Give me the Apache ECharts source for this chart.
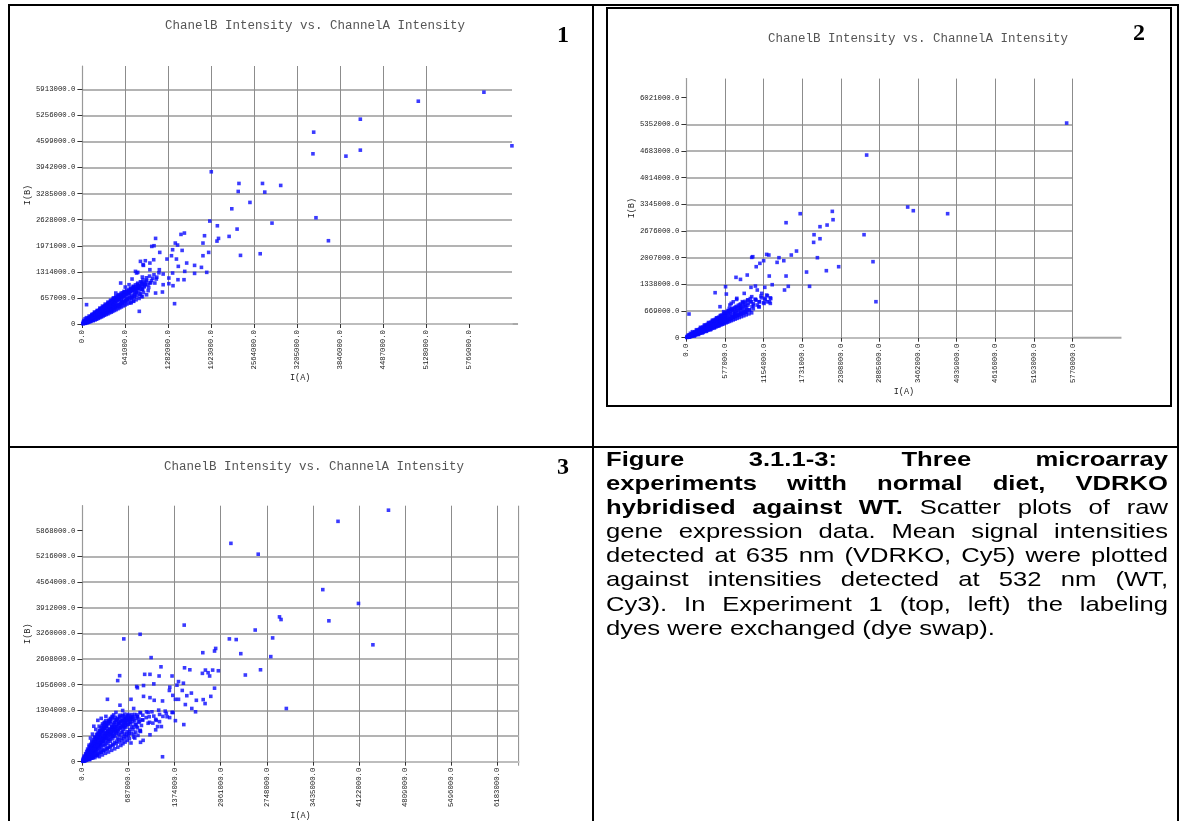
<!DOCTYPE html>
<html>
<head>
<meta charset="utf-8">
<script src="https://cdn.jsdelivr.net/npm/echarts@6/dist/echarts.min.js"></script>
<style>
  html, body { margin: 0; padding: 0; background: #fff; }
  #page { position: relative; width: 1180px; height: 821px; overflow: hidden; }
  #chart { position: absolute; left: 0; top: 0; width: 1180px; height: 821px; }
  .rule { position: absolute; background: #000; }
  #box2 { position: absolute; left: 606px; top: 7px; width: 566px; height: 400px; border: 2px solid #000; box-sizing: border-box; }
  #caption {
    position: absolute; left: 606px; top: 447px; width: 460.7px;
    transform: scaleX(1.22); transform-origin: 0 0;
    font-family: 'Liberation Sans', Arial, sans-serif; font-size: 21px; line-height: 24.1px; color: #000;
  }
  #caption div { text-align: justify; text-align-last: justify; white-space: normal; }
  #caption div.last { text-align-last: left; }
</style>
</head>
<body>
<div id="page">
  <div id="chart"></div>
  <div class="rule" style="left:8px;top:4px;width:1171px;height:2px"></div>
  <div class="rule" style="left:8px;top:4px;width:2px;height:817px"></div>
  <div class="rule" style="left:1177px;top:4px;width:2px;height:817px"></div>
  <div class="rule" style="left:592px;top:4px;width:1.5px;height:817px"></div>
  <div class="rule" style="left:8px;top:446px;width:1171px;height:1.5px"></div>
  <div id="box2"></div>
  <div id="caption">
    <div><b>Figure 3.1.1-3: Three microarray</b></div>
    <div><b>experiments witth normal diet, VDRKO</b></div>
    <div><b>hybridised against WT.</b> Scatter plots of raw</div>
    <div>gene expression data. Mean signal intensities</div>
    <div>detected at 635 nm (VDRKO, Cy5) were plotted</div>
    <div>against intensities detected at 532 nm (WT,</div>
    <div>Cy3). In Experiment 1 (top, left) the labeling</div>
    <div class="last">dyes were exchanged (dye swap).</div>
  </div>
</div>
<script>
const TITLE = 'ChanelB Intensity vs. ChannelA Intensity'
const MONO = '"Liberation Mono", "DejaVu Sans Mono", monospace'
const AXIS_MAX = 6500000

// tick values, as printed on each panel
const p1XTicks = [0, 641000, 1282000, 1923000, 2564000, 3205000, 3846000, 4487000, 5128000, 5769000]
const p1YTicks = [0, 657000, 1314000, 1971000, 2628000, 3285000, 3942000, 4599000, 5256000, 5913000]
const p2XTicks = [0, 577000, 1154000, 1731000, 2308000, 2885000, 3462000, 4039000, 4616000, 5193000, 5770000]
const p2YTicks = [0, 669000, 1338000, 2007000, 2676000, 3345000, 4014000, 4683000, 5352000, 6021000]
const p3XTicks = [0, 687000, 1374000, 2061000, 2748000, 3435000, 4122000, 4809000, 5496000, 6183000]
const p3YTicks = [0, 652000, 1304000, 1956000, 2608000, 3260000, 3912000, 4564000, 5216000, 5868000]

// experiment 1: [I(A), I(B)]
const p1Points = [
  [5991e3, 5840e3], [5012e3, 5613e3], [4147e3, 5160e3], [3451e3, 4833e3], [6409e3, 4489e3], [4147e3, 4380e3],
  [3440e3, 4288e3], [3932e3, 4229e3], [1923e3, 3835e3], [2336e3, 3541e3], [2687e3, 3541e3], [2959e3, 3491e3],
  [2325e3, 3340e3], [2721e3, 3323e3], [2500e3, 3063e3], [2229e3, 2903e3], [3485e3, 2677e3], [1901e3, 2593e3],
  [2829e3, 2542e3], [2014e3, 2475e3], [2308e3, 2391e3], [2189e3, 2207e3], [2031e3, 2157e3], [2008e3, 2089e3],
  [3671e3, 2098e3], [1822e3, 2224e3], [1799e3, 2039e3], [1884e3, 1804e3], [1799e3, 1720e3], [2359e3, 1729e3],
  [2653e3, 1770e3],
  [1522e3, 2291e3], [1471e3, 2257e3], [1386e3, 2039e3], [1420e3, 1989e3], [1488e3, 1854e3], [1346e3, 1871e3],
  [1329e3, 1720e3], [1092e3, 2157e3], [1069e3, 1972e3], [1154e3, 1804e3], [1262e3, 1636e3], [1403e3, 1636e3],
  [1556e3, 1536e3], [1431e3, 1452e3], [1674e3, 1477e3], [1776e3, 1427e3], [1855e3, 1301e3], [1674e3, 1275e3],
  [1527e3, 1326e3], [1346e3, 1284e3], [1205e3, 1259e3], [1290e3, 1158e3], [1426e3, 1116e3], [1516e3, 1116e3],
  [1352e3, 965e3], [1290e3, 1015e3], [1205e3, 990e3], [1375e3, 512e3], [1194e3, 806e3], [1092e3, 780e3],
  [866e3, 1578e3], [911e3, 1477e3], [939e3, 1594e3], [1007e3, 1536e3], [1064e3, 1619e3], [826e3, 1301e3],
  [792e3, 1326e3], [894e3, 1183e3], [950e3, 1074e3], [1007e3, 1032e3], [1081e3, 1032e3], [741e3, 1133e3],
  [696e3, 990e3], [571e3, 1032e3], [639e3, 931e3], [724e3, 864e3], [803e3, 797e3], [877e3, 696e3],
  [764e3, 571e3], [849e3, 319e3], [498e3, 780e3], [470e3, 654e3], [583e3, 571e3], [413e3, 512e3],
  [62e3, 487e3], [554e3, 445e3], [385e3, 361e3], [1035e3, 1955e3], [905e3, 1494e3], [809e3, 1284e3],
  [922e3, 1049e3], [837e3, 931e3], [1007e3, 1368e3], [1148e3, 1368e3], [781e3, 696e3], [639e3, 780e3],
  [735e3, 654e3], [724e3, 529e3], [554e3, 654e3], [1103e3, 1133e3], [894e3, 864e3], [764e3, 906e3],
  [5e3, 10e3], [15e3, 8e3], [20e3, 30e3], [30e3, 20e3], [35e3, 45e3], [45e3, 35e3], [50e3, 70e3], [60e3, 50e3],
  [65e3, 85e3], [75e3, 60e3], [80e3, 100e3], [90e3, 75e3], [95e3, 120e3], [105e3, 90e3], [110e3, 140e3],
  [120e3, 105e3], [125e3, 160e3], [135e3, 120e3], [140e3, 175e3], [150e3, 135e3], [155e3, 195e3], [165e3, 150e3],
  [170e3, 210e3], [180e3, 165e3], [185e3, 230e3], [195e3, 180e3], [200e3, 250e3], [210e3, 195e3], [215e3, 270e3],
  [225e3, 215e3], [230e3, 290e3], [240e3, 230e3], [245e3, 305e3], [255e3, 245e3], [260e3, 320e3], [270e3, 260e3],
  [275e3, 340e3], [285e3, 280e3], [290e3, 360e3], [300e3, 295e3], [305e3, 380e3], [315e3, 310e3], [320e3, 400e3],
  [330e3, 330e3], [335e3, 420e3], [345e3, 350e3], [350e3, 440e3], [360e3, 370e3], [370e3, 460e3], [380e3, 390e3],
  [390e3, 480e3], [400e3, 410e3], [410e3, 500e3], [420e3, 430e3], [430e3, 530e3], [440e3, 450e3], [450e3, 560e3],
  [460e3, 480e3], [470e3, 590e3], [480e3, 500e3], [490e3, 620e3], [500e3, 520e3],
  [20e3, 90e3], [40e3, 130e3], [60e3, 160e3], [80e3, 40e3], [100e3, 200e3], [120e3, 60e3], [140e3, 240e3],
  [160e3, 90e3], [180e3, 300e3], [200e3, 130e3], [220e3, 340e3], [240e3, 160e3], [260e3, 400e3], [280e3, 200e3],
  [300e3, 450e3], [320e3, 240e3], [340e3, 500e3], [360e3, 280e3], [380e3, 550e3], [400e3, 330e3], [420e3, 600e3],
  [440e3, 360e3], [460e3, 650e3], [480e3, 400e3], [500e3, 700e3], [520e3, 440e3], [540e3, 740e3], [560e3, 480e3],
  [580e3, 780e3], [600e3, 520e3], [620e3, 820e3], [640e3, 560e3], [520e3, 620e3], [550e3, 680e3], [580e3, 620e3],
  [610e3, 700e3], [640e3, 760e3], [660e3, 640e3], [680e3, 820e3], [700e3, 720e3], [720e3, 880e3], [740e3, 680e3],
  [760e3, 940e3], [780e3, 760e3], [800e3, 820e3], [820e3, 1000e3], [840e3, 900e3], [860e3, 760e3], [880e3, 1050e3],
  [900e3, 880e3], [920e3, 960e3], [940e3, 1000e3], [960e3, 1100e3], [990e3, 920e3], [1020e3, 1040e3], [1050e3, 1150e3],
  [12e3, 45e3], [28e3, 62e3], [42e3, 18e3], [58e3, 92e3], [66e3, 28e3], [88e3, 130e3], [97e3, 48e3], [112e3, 170e3],
  [118e3, 82e3], [131e3, 198e3], [146e3, 96e3], [152e3, 228e3], [163e3, 118e3], [177e3, 256e3], [186e3, 132e3],
  [193e3, 287e3], [204e3, 152e3], [218e3, 312e3], [226e3, 174e3], [236e3, 336e3], [247e3, 196e3], [258e3, 362e3],
  [266e3, 214e3], [274e3, 388e3], [288e3, 232e3], [297e3, 412e3], [306e3, 252e3], [318e3, 436e3], [327e3, 268e3],
  [338e3, 462e3], [346e3, 286e3], [356e3, 488e3], [367e3, 306e3], [377e3, 514e3], [388e3, 322e3], [396e3, 540e3],
  [407e3, 346e3], [418e3, 566e3], [426e3, 362e3], [437e3, 592e3], [448e3, 386e3], [458e3, 618e3], [467e3, 404e3],
  [478e3, 646e3], [488e3, 422e3], [497e3, 672e3], [512e3, 458e3], [526e3, 700e3], [538e3, 486e3], [553e3, 724e3],
  [566e3, 512e3], [578e3, 752e3], [592e3, 548e3], [606e3, 786e3], [618e3, 582e3], [633e3, 812e3], [648e3, 604e3],
  [662e3, 846e3], [676e3, 632e3], [694e3, 874e3], [708e3, 668e3], [723e3, 906e3], [742e3, 716e3], [758e3, 950e3],
  [772e3, 742e3], [791e3, 986e3], [807e3, 790e3], [826e3, 1028e3], [843e3, 836e3], [866e3, 1064e3], [884e3, 878e3],
  [903e3, 1112e3], [926e3, 936e3], [955e3, 1164e3], [978e3, 990e3], [1002e3, 1206e3], [1030e3, 1096e3],
  [1068e3, 1240e3], [1110e3, 1180e3], [1142e3, 1290e3],
  [150e3, 180e3], [250e3, 290e3], [350e3, 400e3], [450e3, 520e3], [550e3, 620e3], [650e3, 740e3], [750e3, 850e3],
  [850e3, 960e3], [200e3, 210e3], [300e3, 350e3], [400e3, 460e3], [500e3, 580e3], [600e3, 690e3], [700e3, 790e3],
  [800e3, 900e3], [900e3, 1010e3],
  [33e3, 55e3], [47e3, 81e3], [53e3, 40e3], [71e3, 112e3], [77e3, 52e3], [83e3, 141e3], [99e3, 66e3], [102e3, 158e3],
  [117e3, 95e3], [123e3, 182e3], [128e3, 73e3], [142e3, 211e3], [148e3, 109e3], [159e3, 248e3], [161e3, 87e3],
  [172e3, 133e3], [183e3, 271e3], [189e3, 102e3], [197e3, 158e3], [208e3, 296e3], [213e3, 121e3], [221e3, 182e3],
  [232e3, 327e3], [238e3, 142e3], [244e3, 203e3], [256e3, 351e3], [262e3, 163e3], [269e3, 228e3], [281e3, 374e3],
  [286e3, 179e3], [294e3, 251e3], [303e3, 398e3], [309e3, 201e3], [317e3, 276e3], [326e3, 421e3], [331e3, 222e3],
  [339e3, 298e3], [352e3, 452e3], [357e3, 241e3], [363e3, 317e3], [374e3, 479e3], [382e3, 258e3], [387e3, 341e3],
  [399e3, 502e3], [405e3, 281e3], [412e3, 362e3], [423e3, 531e3], [431e3, 298e3], [436e3, 384e3], [447e3, 557e3],
  [453e3, 320e3], [461e3, 408e3], [472e3, 584e3], [479e3, 341e3], [486e3, 431e3], [498e3, 609e3], [503e3, 362e3],
  [511e3, 452e3], [523e3, 638e3], [531e3, 386e3], [537e3, 479e3], [549e3, 662e3], [556e3, 408e3], [563e3, 503e3],
  [574e3, 690e3], [582e3, 431e3], [589e3, 527e3], [601e3, 715e3], [608e3, 456e3], [616e3, 552e3], [627e3, 741e3],
  [636e3, 478e3], [644e3, 577e3], [656e3, 768e3], [664e3, 503e3], [672e3, 602e3], [687e3, 796e3], [695e3, 528e3],
  [703e3, 628e3], [718e3, 822e3], [727e3, 552e3], [735e3, 656e3], [752e3, 851e3], [763e3, 580e3], [774e3, 686e3],
  [789e3, 880e3], [801e3, 610e3], [815e3, 716e3], [830e3, 912e3], [846e3, 644e3], [860e3, 752e3], [878e3, 948e3],
  [895e3, 688e3], [912e3, 792e3], [935e3, 990e3], [958e3, 736e3], [981e3, 840e3],
  [23e3, 38e3], [38e3, 51e3], [56e3, 68e3], [69e3, 97e3], [84e3, 88e3], [93e3, 139e3], [107e3, 121e3], [119e3, 131e3],
  [127e3, 176e3], [138e3, 152e3], [151e3, 167e3], [166e3, 201e3], [174e3, 188e3], [187e3, 244e3], [199e3, 221e3],
  [207e3, 238e3], [219e3, 264e3], [228e3, 251e3], [239e3, 301e3], [253e3, 278e3], [261e3, 305e3], [272e3, 318e3],
  [283e3, 333e3], [291e3, 342e3], [302e3, 371e3], [311e3, 329e3], [323e3, 389e3], [332e3, 402e3], [341e3, 371e3],
  [354e3, 419e3], [362e3, 431e3], [371e3, 398e3], [383e3, 452e3], [392e3, 468e3], [403e3, 437e3], [414e3, 489e3],
  [422e3, 512e3], [433e3, 471e3], [442e3, 528e3], [454e3, 549e3], [463e3, 502e3], [474e3, 561e3], [483e3, 578e3],
  [492e3, 541e3], [507e3, 603e3], [516e3, 588e3], [528e3, 627e3], [541e3, 651e3], [552e3, 601e3], [561e3, 688e3],
  [573e3, 662e3], [587e3, 714e3], [596e3, 671e3], [611e3, 738e3], [622e3, 713e3], [639e3, 789e3], [651e3, 722e3],
  [668e3, 804e3], [683e3, 772e3], [699e3, 838e3], [714e3, 811e3], [731e3, 866e3], [748e3, 832e3], [766e3, 902e3],
  [785e3, 871e3], [803e3, 938e3], [822e3, 906e3], [841e3, 972e3], [862e3, 944e3], [887e3, 1018e3]
]

// experiment 2
const p2Points = [
  [5681e3, 5385e3], [2693e3, 4582e3], [3306e3, 3278e3], [3390e3, 3186e3], [3903e3, 3111e3], [1700e3, 3111e3],
  [2180e3, 3169e3], [2191e3, 2960e3], [1489e3, 2885e3], [1996e3, 2785e3], [2102e3, 2826e3], [1907e3, 2584e3],
  [1996e3, 2483e3], [2654e3, 2584e3], [1901e3, 2392e3], [1645e3, 2174e3], [1567e3, 2074e3], [1957e3, 2007e3],
  [2788e3, 1907e3], [5781e3, 1806e3], [2275e3, 1781e3], [2091e3, 1681e3], [1795e3, 1647e3], [1840e3, 1288e3],
  [2832e3, 903e3], [1489e3, 1547e3], [1522e3, 1288e3], [1466e3, 1196e3], [1383e3, 2007e3], [1355e3, 1890e3],
  [1455e3, 1932e3], [1199e3, 2090e3], [1232e3, 2074e3], [1154e3, 1932e3], [1098e3, 1865e3], [1043e3, 1781e3],
  [976e3, 2015e3], [992e3, 2032e3], [1238e3, 1547e3], [1282e3, 1330e3], [909e3, 1572e3], [741e3, 1514e3],
  [808e3, 1463e3], [1031e3, 1296e3], [965e3, 1263e3], [585e3, 1279e3], [429e3, 1129e3], [597e3, 1095e3],
  [1171e3, 1263e3], [1199e3, 1070e3], [1115e3, 1045e3], [1254e3, 1000e3], [1087e3, 773e3], [1004e3, 815e3],
  [1204e3, 900e3], [1160e3, 860e3], [39e3, 594e3],
  [864e3, 1112e3], [976e3, 1029e3], [1059e3, 1196e3], [836e3, 903e3], [920e3, 945e3], [753e3, 987e3],
  [669e3, 861e3], [808e3, 736e3], [892e3, 694e3], [725e3, 610e3], [641e3, 736e3], [557e3, 652e3],
  [502e3, 778e3], [1031e3, 962e3], [1126e3, 1112e3], [1171e3, 987e3], [1254e3, 861e3], [1087e3, 903e3],
  [5e3, 8e3], [15e3, 10e3], [25e3, 25e3], [35e3, 20e3], [45e3, 40e3], [55e3, 35e3], [65e3, 55e3], [75e3, 50e3],
  [85e3, 75e3], [95e3, 65e3], [105e3, 95e3], [115e3, 85e3], [125e3, 110e3], [135e3, 100e3], [145e3, 130e3],
  [155e3, 115e3], [165e3, 150e3], [175e3, 135e3], [185e3, 170e3], [195e3, 150e3], [205e3, 185e3], [215e3, 170e3],
  [225e3, 205e3], [235e3, 190e3], [245e3, 225e3], [255e3, 205e3], [265e3, 245e3], [275e3, 225e3], [285e3, 265e3],
  [295e3, 245e3], [305e3, 285e3], [315e3, 260e3], [325e3, 305e3], [335e3, 280e3], [345e3, 325e3], [355e3, 300e3],
  [365e3, 345e3], [375e3, 320e3], [385e3, 365e3], [395e3, 340e3], [405e3, 385e3], [415e3, 360e3], [425e3, 405e3],
  [435e3, 380e3], [445e3, 425e3], [455e3, 400e3], [465e3, 445e3], [475e3, 420e3], [485e3, 465e3], [495e3, 440e3],
  [505e3, 485e3], [515e3, 460e3], [525e3, 505e3], [535e3, 480e3], [545e3, 525e3], [555e3, 500e3], [565e3, 545e3],
  [575e3, 520e3], [585e3, 565e3],
  [30e3, 70e3], [60e3, 110e3], [90e3, 150e3], [120e3, 40e3], [150e3, 200e3], [180e3, 80e3], [210e3, 260e3],
  [240e3, 120e3], [270e3, 320e3], [300e3, 160e3], [330e3, 380e3], [360e3, 200e3], [390e3, 440e3], [420e3, 250e3],
  [450e3, 500e3], [480e3, 300e3], [510e3, 560e3], [540e3, 350e3], [570e3, 620e3], [600e3, 400e3], [620e3, 680e3],
  [650e3, 460e3], [680e3, 720e3], [700e3, 520e3], [720e3, 600e3], [740e3, 760e3], [760e3, 560e3], [780e3, 680e3],
  [800e3, 820e3], [820e3, 620e3], [840e3, 720e3], [860e3, 880e3], [880e3, 650e3], [900e3, 760e3], [920e3, 820e3],
  [940e3, 700e3], [960e3, 900e3], [980e3, 780e3], [1000e3, 850e3], [1030e3, 960e3], [1060e3, 820e3], [1090e3, 900e3],
  [1120e3, 1000e3], [1150e3, 880e3], [1180e3, 960e3], [1210e3, 1050e3], [1240e3, 900e3], [1260e3, 980e3],
  [650e3, 820e3], [700e3, 900e3], [750e3, 960e3], [620e3, 560e3], [560e3, 440e3], [500e3, 380e3], [440e3, 330e3],
  [380e3, 270e3],
  [10e3, 30e3], [22e3, 14e3], [34e3, 52e3], [48e3, 22e3], [58e3, 74e3], [72e3, 38e3], [84e3, 96e3], [94e3, 52e3],
  [108e3, 118e3], [119e3, 66e3], [131e3, 142e3], [144e3, 82e3], [156e3, 166e3], [168e3, 98e3], [179e3, 188e3],
  [192e3, 116e3], [204e3, 212e3], [216e3, 132e3], [228e3, 236e3], [241e3, 150e3], [252e3, 258e3], [263e3, 168e3],
  [276e3, 282e3], [288e3, 186e3], [299e3, 306e3], [312e3, 204e3], [324e3, 330e3], [336e3, 222e3], [347e3, 354e3],
  [359e3, 240e3], [372e3, 378e3], [384e3, 258e3], [396e3, 402e3], [408e3, 276e3], [419e3, 428e3], [432e3, 296e3],
  [444e3, 452e3], [456e3, 314e3], [468e3, 478e3], [480e3, 332e3], [492e3, 502e3], [505e3, 352e3], [517e3, 528e3],
  [530e3, 372e3], [542e3, 554e3], [556e3, 392e3], [568e3, 580e3], [582e3, 414e3], [596e3, 606e3], [610e3, 436e3],
  [625e3, 632e3], [640e3, 462e3], [655e3, 660e3], [670e3, 488e3], [688e3, 686e3], [704e3, 512e3], [722e3, 714e3],
  [738e3, 540e3], [756e3, 742e3], [774e3, 566e3], [792e3, 770e3], [810e3, 594e3], [830e3, 800e3], [852e3, 624e3],
  [874e3, 832e3], [896e3, 656e3], [920e3, 866e3], [946e3, 690e3], [972e3, 902e3], [1000e3, 726e3], [1040e3, 940e3],
  [1080e3, 780e3],
  [100e3, 90e3], [200e3, 180e3], [300e3, 270e3], [400e3, 360e3], [500e3, 450e3], [600e3, 540e3], [700e3, 630e3],
  [800e3, 720e3], [150e3, 140e3], [250e3, 230e3], [350e3, 320e3], [450e3, 410e3], [550e3, 500e3], [650e3, 590e3],
  [750e3, 680e3], [850e3, 770e3],
  [28e3, 43e3], [37e3, 18e3], [52e3, 68e3], [63e3, 29e3], [79e3, 91e3], [86e3, 42e3], [101e3, 118e3], [112e3, 57e3],
  [126e3, 139e3], [133e3, 69e3], [149e3, 164e3], [157e3, 83e3], [171e3, 188e3], [182e3, 98e3], [196e3, 212e3],
  [204e3, 112e3], [219e3, 238e3], [228e3, 127e3], [242e3, 263e3], [251e3, 141e3], [266e3, 287e3], [274e3, 156e3],
  [289e3, 312e3], [297e3, 172e3], [313e3, 336e3], [321e3, 188e3], [337e3, 361e3], [344e3, 203e3], [361e3, 386e3],
  [368e3, 219e3], [384e3, 411e3], [392e3, 236e3], [408e3, 437e3], [416e3, 253e3], [432e3, 462e3], [441e3, 269e3],
  [457e3, 488e3], [466e3, 287e3], [481e3, 514e3], [489e3, 302e3], [506e3, 541e3], [514e3, 319e3], [531e3, 566e3],
  [539e3, 337e3], [556e3, 592e3], [565e3, 354e3], [581e3, 618e3], [591e3, 372e3], [607e3, 646e3], [617e3, 391e3],
  [634e3, 672e3], [644e3, 409e3], [661e3, 699e3], [671e3, 428e3], [689e3, 728e3], [699e3, 447e3], [716e3, 756e3],
  [728e3, 466e3], [745e3, 785e3], [757e3, 486e3], [776e3, 815e3], [789e3, 506e3], [808e3, 846e3], [822e3, 528e3],
  [842e3, 878e3], [857e3, 550e3], [878e3, 912e3], [894e3, 574e3], [915e3, 946e3], [933e3, 598e3], [955e3, 982e3],
  [975e3, 624e3],
  [62e3, 57e3], [138e3, 121e3], [211e3, 196e3], [283e3, 251e3], [358e3, 329e3], [432e3, 388e3], [507e3, 461e3],
  [581e3, 526e3], [657e3, 598e3], [732e3, 661e3], [807e3, 737e3], [883e3, 795e3],
  [21e3, 19e3], [33e3, 27e3], [44e3, 31e3], [57e3, 48e3], [68e3, 46e3], [78e3, 64e3], [91e3, 70e3], [103e3, 86e3],
  [114e3, 79e3], [126e3, 101e3], [139e3, 108e3], [151e3, 124e3], [161e3, 119e3], [174e3, 143e3], [186e3, 141e3],
  [198e3, 158e3], [209e3, 152e3], [222e3, 181e3], [234e3, 174e3], [246e3, 196e3], [257e3, 187e3], [269e3, 219e3],
  [281e3, 208e3], [293e3, 234e3], [304e3, 226e3], [317e3, 257e3], [329e3, 244e3], [341e3, 271e3], [353e3, 262e3],
  [366e3, 294e3], [378e3, 281e3], [391e3, 311e3], [402e3, 298e3], [414e3, 332e3], [427e3, 318e3], [439e3, 348e3],
  [451e3, 336e3], [463e3, 371e3], [476e3, 354e3], [488e3, 389e3], [501e3, 371e3], [513e3, 408e3], [526e3, 390e3],
  [538e3, 427e3], [551e3, 409e3], [563e3, 448e3], [577e3, 428e3], [590e3, 466e3], [604e3, 447e3], [618e3, 489e3],
  [633e3, 468e3], [648e3, 512e3], [663e3, 491e3], [679e3, 538e3], [694e3, 512e3], [711e3, 561e3], [727e3, 534e3],
  [744e3, 587e3], [762e3, 558e3], [780e3, 612e3], [799e3, 583e3], [818e3, 641e3], [838e3, 609e3], [859e3, 667e3],
  [881e3, 636e3], [904e3, 697e3]
]

// experiment 3
const p3Points = [
  [4561e3, 6386e3], [3809e3, 6103e3], [2213e3, 5544e3], [2620e3, 5269e3], [3582e3, 4369e3], [4114e3, 4018e3],
  [3673e3, 3577e3], [2937e3, 3677e3], [2960e3, 3610e3], [1517e3, 3468e3], [2575e3, 3343e3], [860e3, 3235e3],
  [617e3, 3118e3], [2190e3, 3118e3], [2292e3, 3101e3], [2835e3, 3143e3], [4329e3, 2968e3], [1986e3, 2876e3],
  [1969e3, 2810e3], [2360e3, 2743e3], [1794e3, 2768e3], [2807e3, 2668e3], [1024e3, 2643e3], [1171e3, 2409e3],
  [1522e3, 2384e3], [1601e3, 2334e3], [1833e3, 2326e3], [1941e3, 2326e3], [2026e3, 2309e3], [2654e3, 2334e3],
  [1788e3, 2243e3], [1873e3, 2259e3], [1896e3, 2176e3], [2428e3, 2201e3], [928e3, 2218e3], [1007e3, 2218e3],
  [555e3, 2184e3], [526e3, 2059e3], [1143e3, 2176e3], [1336e3, 2176e3], [1064e3, 1976e3], [911e3, 1934e3],
  [809e3, 1909e3], [820e3, 1876e3], [1432e3, 2034e3], [1409e3, 1943e3], [1505e3, 1993e3], [1302e3, 1892e3],
  [1296e3, 1809e3], [1969e3, 1867e3], [1488e3, 1809e3], [1624e3, 1742e3], [1347e3, 1684e3], [1556e3, 1676e3],
  [1913e3, 1659e3], [911e3, 1659e3], [373e3, 1584e3], [724e3, 1584e3], [1007e3, 1626e3], [1070e3, 1559e3],
  [1194e3, 1542e3], [1386e3, 1584e3], [1432e3, 1584e3], [1698e3, 1559e3], [1800e3, 1576e3], [1828e3, 1476e3],
  [1534e3, 1451e3], [560e3, 1434e3], [3039e3, 1351e3], [1630e3, 1351e3], [1686e3, 1267e3], [764e3, 1351e3],
  [956e3, 1267e3], [1036e3, 1267e3], [1137e3, 1309e3], [1234e3, 1284e3], [1336e3, 1251e3], [866e3, 1242e3],
  [821e3, 1142e3], [996e3, 1142e3], [1064e3, 1158e3], [1092e3, 1075e3], [1149e3, 1017e3], [1262e3, 1142e3],
  [1386e3, 1042e3], [1511e3, 942e3], [1120e3, 892e3], [1177e3, 892e3], [1194e3, 125e3], [905e3, 542e3],
  [866e3, 492e3], [753e3, 809e3], [696e3, 725e3], [611e3, 892e3], [809e3, 892e3], [866e3, 767e3],
  [979e3, 976e3], [894e3, 1059e3], [724e3, 1100e3], [639e3, 976e3], [1007e3, 684e3], [1092e3, 809e3],
  [781e3, 600e3], [724e3, 475e3],
  [5e3, 10e3], [10e3, 30e3], [20e3, 15e3], [25e3, 50e3], [30e3, 25e3], [40e3, 70e3], [45e3, 35e3], [50e3, 100e3],
  [55e3, 50e3], [60e3, 130e3], [70e3, 60e3], [75e3, 160e3], [80e3, 90e3], [90e3, 190e3], [95e3, 110e3],
  [100e3, 60e3], [105e3, 220e3], [110e3, 140e3], [120e3, 250e3], [125e3, 170e3], [130e3, 90e3], [135e3, 280e3],
  [140e3, 200e3], [150e3, 310e3], [155e3, 230e3], [160e3, 120e3], [165e3, 340e3], [170e3, 260e3], [180e3, 370e3],
  [185e3, 290e3], [190e3, 150e3], [195e3, 400e3], [200e3, 320e3], [210e3, 430e3], [215e3, 350e3], [220e3, 180e3],
  [225e3, 460e3], [230e3, 380e3], [240e3, 490e3], [245e3, 410e3], [250e3, 210e3], [255e3, 520e3], [260e3, 440e3],
  [270e3, 550e3], [275e3, 470e3], [280e3, 240e3], [285e3, 580e3], [290e3, 500e3], [300e3, 610e3], [305e3, 530e3],
  [310e3, 270e3], [315e3, 640e3], [320e3, 560e3], [330e3, 670e3], [335e3, 590e3], [340e3, 300e3], [345e3, 700e3],
  [350e3, 620e3], [360e3, 730e3], [365e3, 650e3], [370e3, 330e3], [380e3, 760e3], [385e3, 680e3], [390e3, 360e3],
  [400e3, 790e3], [410e3, 710e3], [420e3, 400e3], [430e3, 740e3], [440e3, 820e3], [450e3, 440e3], [460e3, 770e3],
  [470e3, 850e3], [480e3, 480e3], [490e3, 800e3], [500e3, 880e3], [510e3, 520e3], [520e3, 830e3], [540e3, 560e3],
  [560e3, 860e3], [580e3, 600e3], [600e3, 900e3], [620e3, 650e3], [640e3, 920e3], [660e3, 700e3], [680e3, 950e3],
  [700e3, 760e3],
  [100e3, 420e3], [140e3, 520e3], [180e3, 620e3], [220e3, 700e3], [260e3, 780e3], [150e3, 700e3], [200e3, 820e3],
  [250e3, 900e3], [300e3, 960e3], [230e3, 1050e3], [280e3, 1100e3], [330e3, 1000e3], [350e3, 1150e3], [400e3, 1050e3],
  [120e3, 600e3], [170e3, 900e3], [310e3, 850e3], [360e3, 920e3], [420e3, 980e3], [450e3, 1100e3], [480e3, 1000e3],
  [520e3, 1080e3], [560e3, 1180e3], [600e3, 1050e3], [640e3, 1100e3], [680e3, 1200e3], [700e3, 1000e3], [720e3, 1120e3],
  [500e3, 1250e3], [600e3, 1300e3], [750e3, 1080e3], [780e3, 1200e3], [820e3, 1150e3], [860e3, 1250e3], [900e3, 1180e3],
  [440e3, 880e3], [540e3, 960e3], [620e3, 1000e3], [760e3, 880e3], [800e3, 950e3], [850e3, 1020e3], [900e3, 1060e3],
  [950e3, 1120e3], [1000e3, 1000e3], [1050e3, 980e3], [1100e3, 1050e3], [980e3, 1250e3], [1150e3, 1200e3],
  [1200e3, 1150e3], [1250e3, 1230e3], [1300e3, 1120e3], [1350e3, 1250e3],
  [15e3, 80e3], [25e3, 140e3], [35e3, 60e3], [48e3, 200e3], [52e3, 120e3], [64e3, 260e3], [68e3, 90e3], [78e3, 320e3],
  [86e3, 180e3], [92e3, 60e3], [102e3, 380e3], [108e3, 240e3], [116e3, 130e3], [124e3, 440e3], [132e3, 300e3],
  [138e3, 190e3], [146e3, 500e3], [152e3, 360e3], [158e3, 100e3], [168e3, 560e3], [174e3, 420e3], [180e3, 250e3],
  [188e3, 620e3], [196e3, 480e3], [204e3, 320e3], [212e3, 680e3], [218e3, 540e3], [226e3, 150e3], [234e3, 740e3],
  [240e3, 600e3], [248e3, 380e3], [256e3, 800e3], [262e3, 660e3], [270e3, 460e3], [278e3, 860e3], [286e3, 720e3],
  [292e3, 300e3], [300e3, 920e3], [308e3, 780e3], [316e3, 520e3], [324e3, 980e3], [332e3, 840e3], [340e3, 400e3],
  [348e3, 1040e3], [356e3, 900e3], [364e3, 580e3], [372e3, 760e3], [380e3, 460e3], [390e3, 960e3], [398e3, 640e3],
  [406e3, 820e3], [416e3, 520e3], [424e3, 1020e3], [434e3, 700e3], [444e3, 880e3], [452e3, 580e3], [462e3, 760e3],
  [472e3, 940e3], [482e3, 640e3], [492e3, 1060e3], [504e3, 720e3], [514e3, 900e3], [526e3, 600e3], [536e3, 780e3],
  [548e3, 980e3], [560e3, 680e3], [572e3, 860e3], [584e3, 740e3], [596e3, 960e3], [610e3, 820e3], [624e3, 700e3],
  [636e3, 1040e3], [650e3, 880e3], [664e3, 760e3], [678e3, 940e3], [692e3, 1080e3], [706e3, 820e3], [720e3, 960e3],
  [736e3, 880e3], [752e3, 1020e3], [770e3, 700e3], [786e3, 940e3], [802e3, 1100e3], [820e3, 860e3], [840e3, 1000e3],
  [860e3, 780e3], [880e3, 920e3],
  [60e3, 180e3], [120e3, 360e3], [180e3, 500e3], [240e3, 700e3], [300e3, 800e3], [360e3, 850e3], [420e3, 700e3],
  [480e3, 820e3], [540e3, 700e3], [600e3, 760e3], [90e3, 280e3], [150e3, 420e3], [210e3, 580e3], [270e3, 620e3],
  [330e3, 720e3], [390e3, 560e3], [450e3, 660e3], [510e3, 780e3], [570e3, 900e3], [630e3, 860e3],
  [18e3, 42e3], [27e3, 95e3], [33e3, 18e3], [41e3, 122e3], [49e3, 58e3], [57e3, 171e3], [62e3, 34e3], [73e3, 143e3],
  [81e3, 227e3], [87e3, 72e3], [96e3, 198e3], [104e3, 281e3], [111e3, 54e3], [118e3, 162e3], [127e3, 336e3],
  [134e3, 236e3], [141e3, 88e3], [149e3, 392e3], [157e3, 271e3], [163e3, 131e3], [172e3, 448e3], [179e3, 311e3],
  [186e3, 104e3], [194e3, 506e3], [201e3, 352e3], [208e3, 167e3], [216e3, 561e3], [223e3, 392e3], [231e3, 211e3],
  [238e3, 618e3], [246e3, 433e3], [253e3, 128e3], [261e3, 677e3], [268e3, 474e3], [276e3, 246e3], [283e3, 736e3],
  [291e3, 516e3], [298e3, 172e3], [306e3, 792e3], [313e3, 557e3], [321e3, 289e3], [329e3, 851e3], [336e3, 598e3],
  [344e3, 213e3], [352e3, 908e3], [359e3, 641e3], [367e3, 331e3], [374e3, 964e3], [382e3, 682e3], [389e3, 246e3],
  [397e3, 1022e3], [405e3, 724e3], [412e3, 372e3], [420e3, 1078e3], [428e3, 766e3], [435e3, 289e3], [443e3, 1133e3],
  [451e3, 806e3], [458e3, 417e3], [466e3, 1188e3], [474e3, 848e3], [481e3, 327e3], [489e3, 1126e3], [497e3, 889e3],
  [504e3, 456e3], [512e3, 1062e3], [520e3, 931e3], [527e3, 369e3], [535e3, 1004e3], [543e3, 972e3], [550e3, 498e3],
  [558e3, 1112e3], [566e3, 1014e3], [573e3, 412e3], [581e3, 1052e3], [589e3, 542e3], [597e3, 1158e3], [604e3, 456e3],
  [612e3, 1094e3], [620e3, 583e3], [628e3, 1208e3], [636e3, 498e3], [644e3, 1136e3], [652e3, 627e3], [660e3, 1054e3],
  [668e3, 541e3], [676e3, 1176e3], [684e3, 668e3], [692e3, 1098e3], [700e3, 583e3], [716e3, 1010e3], [732e3, 712e3],
  [748e3, 1150e3], [764e3, 626e3], [780e3, 1042e3], [796e3, 752e3], [812e3, 1188e3], [828e3, 668e3], [844e3, 1080e3],
  [860e3, 796e3],
  [12e3, 55e3], [22e3, 70e3], [31e3, 104e3], [39e3, 39e3], [46e3, 151e3], [54e3, 87e3], [61e3, 210e3], [67e3, 118e3],
  [74e3, 63e3], [83e3, 268e3], [89e3, 141e3], [97e3, 318e3], [103e3, 84e3], [112e3, 205e3], [119e3, 352e3],
  [126e3, 113e3], [133e3, 263e3], [143e3, 427e3], [147e3, 161e3], [156e3, 308e3], [164e3, 472e3], [171e3, 187e3],
  [177e3, 344e3], [186e3, 531e3], [193e3, 223e3], [199e3, 397e3], [207e3, 587e3], [214e3, 268e3], [222e3, 452e3],
  [229e3, 641e3], [236e3, 298e3], [243e3, 502e3], [252e3, 712e3], [259e3, 337e3], [266e3, 553e3], [274e3, 768e3],
  [282e3, 381e3], [289e3, 609e3], [297e3, 833e3], [304e3, 414e3], [311e3, 661e3], [319e3, 887e3], [327e3, 446e3],
  [334e3, 703e3], [343e3, 938e3], [351e3, 481e3], [358e3, 746e3], [366e3, 991e3], [375e3, 531e3], [383e3, 794e3],
  [392e3, 1046e3], [401e3, 568e3], [409e3, 844e3], [418e3, 1099e3], [427e3, 607e3], [436e3, 893e3], [446e3, 1152e3],
  [455e3, 648e3], [464e3, 946e3], [474e3, 689e3], [484e3, 994e3], [494e3, 731e3], [505e3, 1041e3], [516e3, 776e3],
  [527e3, 1098e3], [539e3, 821e3], [551e3, 1146e3], [563e3, 858e3], [576e3, 1021e3], [590e3, 903e3], [604e3, 1174e3],
  [618e3, 951e3], [633e3, 1063e3], [648e3, 997e3], [664e3, 1119e3], [681e3, 1033e3], [698e3, 1161e3], [716e3, 1076e3],
  [735e3, 1196e3], [755e3, 1124e3]
]

// layout of the three plots (pixels)
const panels = [
  {
    points: p1Points, xTicks: p1XTicks, yTicks: p1YTicks, xMax: 6410000,
    grid: { left: 82.4, top: 66, width: 429.6, height: 258 },
    xMaxLine: false, yMaxLine: true,
    title: { x: 315, y: 26 }, number: { text: '1', x: 563, y: 36 }
  },
  {
    points: p2Points, xTicks: p2XTicks, yTicks: p2YTicks, xMax: 5770000,
    grid: { left: 686.4, top: 78.6, width: 386.2, height: 259.1 },
    xMaxLine: true, yMaxLine: false,
    title: { x: 918, y: 39 }, number: { text: '2', x: 1139, y: 34 }
  },
  {
    points: p3Points, xTicks: p3XTicks, yTicks: p3YTicks, xMax: AXIS_MAX,
    grid: { left: 82.4, top: 505.7, width: 436.2, height: 260 },
    xMaxLine: true, yMaxLine: false,
    title: { x: 314, y: 467 }, number: { text: '3', x: 563, y: 468 }
  }
]

function axisEnd(p) {
  return p.grid.left + p.grid.width * AXIS_MAX / p.xMax
}

function buildXAxis(p, i) {
  const shift = axisEnd(p) - (p.grid.left + p.grid.width)
  return {
    type: 'value',
    gridIndex: i,
    min: 0,
    max: p.xMax,
    interval: p.xTicks[1],
    name: 'I(A)',
    nameLocation: 'middle',
    nameGap: 40,
    nameTextStyle: { fontFamily: MONO, fontSize: 8.5, color: '#222', padding: [0, 0, 0, shift] },
    axisLine: { show: true, lineStyle: { color: '#bdbdbd', width: 2 } },
    axisTick: { show: true, length: 4, customValues: p.xTicks, lineStyle: { color: '#333', width: 1 } },
    axisLabel: {
      customValues: p.xTicks,
      rotate: 90,
      margin: 6,
      fontFamily: MONO,
      fontSize: 7.3,
      color: '#222',
      formatter: (v) => Number(v).toFixed(1)
    },
    splitLine: { show: true, showMaxLine: p.xMaxLine, lineStyle: { color: '#8c8c8c', width: 1 } }
  }
}

function buildYAxis(p, i) {
  return {
    type: 'value',
    gridIndex: i,
    min: 0,
    max: AXIS_MAX,
    interval: p.yTicks[1],
    name: 'I(B)',
    nameLocation: 'middle',
    nameGap: 50,
    nameTextStyle: { fontFamily: MONO, fontSize: 8.5, color: '#222' },
    axisLine: { show: true, lineStyle: { color: '#999', width: 1.2 } },
    axisTick: { show: true, length: 5, customValues: p.yTicks, lineStyle: { color: '#333', width: 1 } },
    axisLabel: {
      customValues: p.yTicks,
      margin: 7,
      fontFamily: MONO,
      fontSize: 7.3,
      color: '#222',
      formatter: (v) => (v === 0 ? '0' : Number(v).toFixed(1))
    },
    splitLine: { show: true, showMaxLine: p.yMaxLine, lineStyle: { color: '#b3b3b3', width: 2 } }
  }
}

const graphics = []
panels.forEach((p) => {
  graphics.push({
    type: 'text',
    x: p.title.x,
    y: p.title.y,
    style: { text: TITLE, fontFamily: MONO, fontSize: 12.5, fill: '#555', align: 'center', verticalAlign: 'middle' }
  })
  graphics.push({
    type: 'text',
    x: p.number.x,
    y: p.number.y,
    style: {
      text: p.number.text, fontFamily: '"Liberation Serif", serif', fontSize: 24, fontWeight: 'bold',
      fill: '#000', align: 'center', verticalAlign: 'middle'
    }
  })
  const x1 = p.grid.left + p.grid.width
  const x2 = axisEnd(p)
  const y = p.grid.top + p.grid.height
  if (x2 - x1 > 1) {
    graphics.push({
      type: 'line',
      shape: { x1: x1, y1: y, x2: x2, y2: y },
      style: { stroke: '#a8a8a8', lineWidth: 2 }
    })
  } else if (p.xMaxLine) {
    // right-hand border of the plot area
    graphics.push({
      type: 'line',
      shape: { x1: x1, y1: p.grid.top, x2: x1, y2: y },
      style: { stroke: '#8c8c8c', lineWidth: 1 }
    })
  }
})

const chart = echarts.init(document.getElementById('chart'), null, { renderer: 'canvas' })
chart.setOption({
  backgroundColor: 'transparent',
  animation: false,
  grid: panels.map((p) => Object.assign({ containLabel: false }, p.grid)),
  xAxis: panels.map(buildXAxis),
  yAxis: panels.map(buildYAxis),
  series: panels.map((p, i) => ({
    type: 'scatter',
    xAxisIndex: i,
    yAxisIndex: i,
    symbol: 'rect',
    symbolSize: 3.6,
    silent: true,
    itemStyle: { color: '#0a0aff' },
    data: p.points
  })),
  graphic: graphics
})
</script>
</body>
</html>
